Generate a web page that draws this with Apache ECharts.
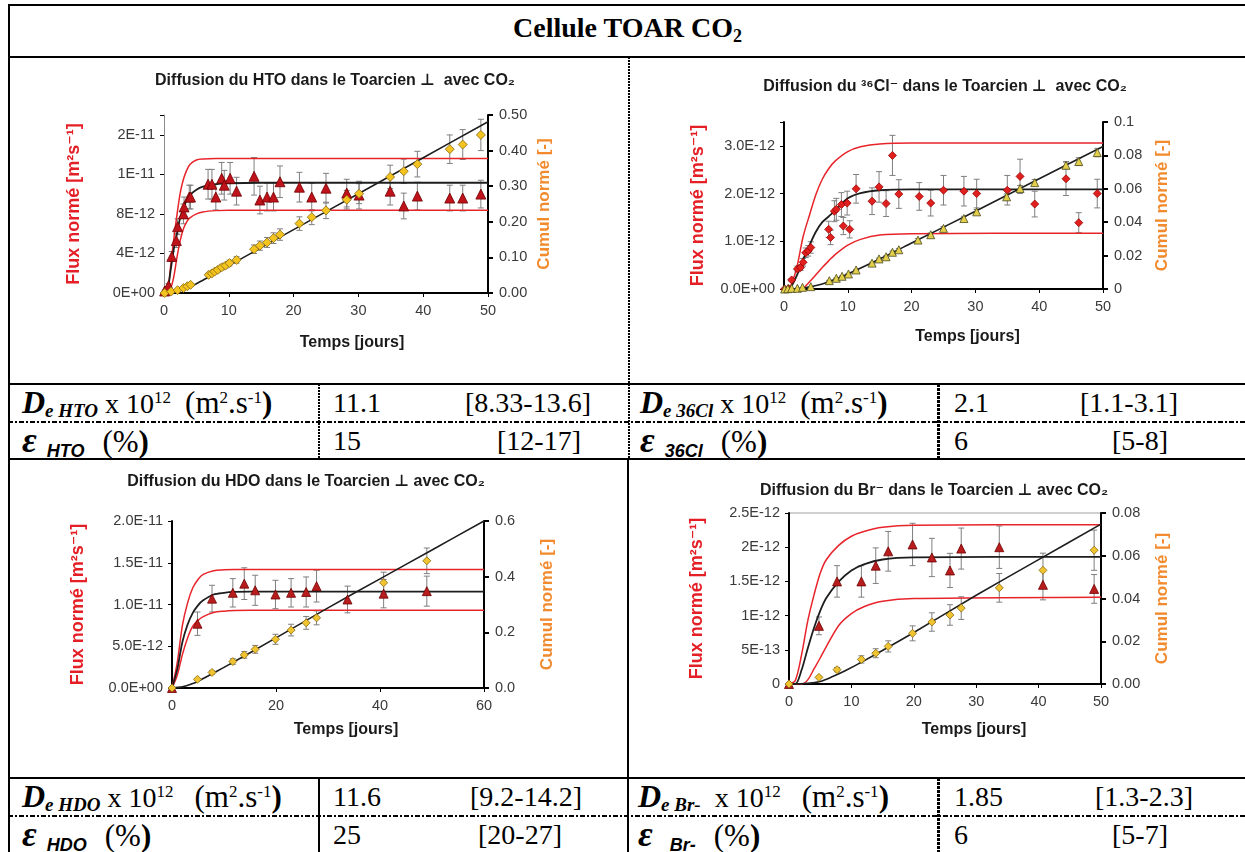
<!DOCTYPE html>
<html><head><meta charset="utf-8">
<script src="https://cdn.jsdelivr.net/npm/echarts@6/dist/echarts.min.js"></script>
<style>
html,body{margin:0;padding:0;background:#fff;width:1245px;height:852px;overflow:hidden}
#wrap{position:relative;width:1245px;height:852px}
.h{position:absolute;background:#000;height:2px}
.v{position:absolute;background:#000;width:2px}
.dd{position:absolute;height:2px;background:repeating-linear-gradient(to right,#000 0 5px,transparent 5px 7px,#000 7px 9px,transparent 9px 11px)}
.vd{position:absolute;width:2px;background:repeating-linear-gradient(to bottom,#000 0 2px,transparent 2px 3px)}
.vdt{position:absolute;width:3px;background:repeating-linear-gradient(to bottom,#000 0 3px,transparent 3px 4px)}
.c{position:absolute;font-family:'Liberation Serif','DejaVu Serif',serif;font-size:28px;line-height:37px;white-space:nowrap;color:#000}
.D{font-weight:bold;font-style:italic;font-size:32px}
.E{font-weight:bold;font-style:italic;font-size:36px;margin-right:10px}
.sb{font-weight:bold;font-style:italic;font-size:19px;position:relative;top:4px}
.sbs{font-family:'Liberation Sans',Arial,sans-serif;font-weight:bold;font-style:italic;font-size:18px;position:relative;top:5px;margin-right:18px}
.sp{font-size:17px;position:relative;top:-10px}
.P{font-size:31px}
.tt{position:absolute;left:10px;width:1235px;top:6px;height:50px;line-height:44px;text-align:center;font-family:'Liberation Serif','DejaVu Serif',serif;font-weight:bold;font-size:28px}
#chart{position:absolute;left:0;top:0;width:1245px;height:852px}
</style></head>
<body><div id="wrap">
<div class="h" style="left:8px;top:4px;width:1240px"></div>
<div class="v" style="left:8px;top:4px;height:850px"></div>
<div class="h" style="left:8px;top:56px;width:1240px"></div>
<div class="h" style="left:8px;top:383px;width:1240px"></div>
<div class="dd" style="left:8px;top:421px;width:1240px"></div>
<div class="h" style="left:8px;top:458px;width:1240px"></div>
<div class="h" style="left:8px;top:777px;width:1240px"></div>
<div class="dd" style="left:8px;top:815px;width:1240px"></div>
<div class="vd" style="left:628px;top:57px;height:402px"></div>
<div class="v" style="left:627px;top:459px;height:393px"></div>
<div class="vd" style="left:318px;top:384px;height:75px"></div>
<div class="v" style="left:318px;top:778px;height:74px"></div>
<div class="vdt" style="left:937px;top:384px;height:75px"></div>
<div class="vdt" style="left:937px;top:778px;height:74px"></div>

<div class="tt">Cellule TOAR CO<span style="font-size:18px;position:relative;top:5px">2</span></div>

<div class="c" style="left:22px;top:384px"><span class="D">D</span><span class="sb">e HTO</span> x 10<span class="sp">12</span>&nbsp; <span class="P">(m<span class="sp">2</span>.s<span class="sp">-1</span><b>)</b></span></div>
<div class="c" style="left:333px;top:384px">11.1</div>
<div class="c" style="left:465px;top:384px">[8.33-13.6]</div>
<div class="c" style="left:640px;top:384px"><span class="D">D</span><span class="sb">e 36Cl</span> x 10<span class="sp">12</span>&nbsp; <span class="P">(m<span class="sp">2</span>.s<span class="sp">-1</span><b>)</b></span></div>
<div class="c" style="left:954px;top:384px">2.1</div>
<div class="c" style="left:1080px;top:384px">[1.1-3.1]</div>

<div class="c" style="left:22px;top:422px"><span class="E">ε</span><span class="sbs">HTO</span><span class="P">(%<b>)</b></span></div>
<div class="c" style="left:333px;top:422px">15</div>
<div class="c" style="left:497px;top:422px">[12-17]</div>
<div class="c" style="left:640px;top:422px"><span class="E">ε</span><span class="sbs">36Cl</span><span class="P">(%<b>)</b></span></div>
<div class="c" style="left:954px;top:422px">6</div>
<div class="c" style="left:1112px;top:422px">[5-8]</div>

<div class="c" style="left:22px;top:778px"><span class="D">D</span><span class="sb">e HDO</span> x 10<span class="sp">12</span>&nbsp;&nbsp; <span class="P">(m<span class="sp">2</span>.s<span class="sp">-1</span><b>)</b></span></div>
<div class="c" style="left:333px;top:778px">11.6</div>
<div class="c" style="left:470px;top:778px">[9.2-14.2]</div>
<div class="c" style="left:638px;top:778px"><span class="D">D</span><span class="sb">e Br-</span>&nbsp; x 10<span class="sp">12</span>&nbsp;&nbsp; <span class="P">(m<span class="sp">2</span>.s<span class="sp">-1</span><b>)</b></span></div>
<div class="c" style="left:954px;top:778px">1.85</div>
<div class="c" style="left:1095px;top:778px">[1.3-2.3]</div>

<div class="c" style="left:22px;top:816px"><span class="E">ε</span><span class="sbs">HDO</span><span class="P">(%<b>)</b></span></div>
<div class="c" style="left:333px;top:816px">25</div>
<div class="c" style="left:478px;top:816px">[20-27]</div>
<div class="c" style="left:638px;top:816px"><span class="E">ε</span>&nbsp;<span class="sbs">Br-</span><span class="P">(%<b>)</b></span></div>
<div class="c" style="left:954px;top:816px">6</div>
<div class="c" style="left:1112px;top:816px">[5-7]</div>

<div id="chart"></div>
</div>
<script>
// ---------- HTO (flux in 1e-12 m2/s) ----------
const htoFluxT   = [0.1,0.7,1.2,1.9,2.1,3.0,3.1,3.9,4.1,6.8,7.4,8.0,8.9,9.3,10.2,11.2,13.9,14.8,15.9,16.9,17.9,20.9,22.8,25.0,28.2,30.1,34.9,37.0,39.1,44.1,46.1,48.9];
const htoFlux    = [0.2,0.75,3.7,5.3,6.7,8.0,8.7,9.7,9.7,11.0,11.0,9.7,11.6,10.9,11.6,10.3,11.8,9.4,9.7,9.7,11.25,10.7,9.7,10.6,10.1,9.9,10.3,8.8,9.8,9.6,9.6,10.0];
const htoFluxErr = [0.1,0.2,0.5,0.7,0.8,1.0,1.0,1.2,1.2,1.5,1.5,1.3,1.6,1.5,1.6,1.4,1.9,1.4,1.4,1.4,1.6,1.5,1.4,1.5,1.4,1.4,1.4,1.3,1.4,1.3,1.3,1.4];
const htoCumT    = [0.1,1.1,2.1,3.0,3.6,4.1,6.9,7.4,7.8,8.3,8.9,9.5,10.1,11.2,13.9,14.8,15.9,16.9,17.9,20.9,22.8,25.0,28.2,30.1,34.9,37.0,39.1,44.1,46.1,48.9];
const htoCum     = [0,0.004,0.008,0.014,0.019,0.023,0.051,0.055,0.06,0.065,0.072,0.077,0.084,0.093,0.123,0.133,0.142,0.154,0.164,0.195,0.213,0.232,0.262,0.279,0.326,0.342,0.362,0.404,0.417,0.444];
const htoCumErr  = [0,0.001,0.002,0.002,0.003,0.003,0.005,0.005,0.006,0.006,0.007,0.007,0.008,0.009,0.012,0.013,0.014,0.015,0.016,0.019,0.021,0.023,0.026,0.028,0.033,0.034,0.036,0.040,0.042,0.044];
const htoFitT    = [0,0.5,1,1.5,2,2.5,3,3.5,4,5,6,8,10,15,50];
const htoFitMid  = [0,0.2,2.2,4.4,6.0,7.6,8.6,9.4,9.9,10.45,10.75,11.0,11.1,11.15,11.15];
const htoFitHigh = [0,0.05,2.6,5.4,7.9,10.1,11.5,12.4,13.0,13.45,13.55,13.6,13.6,13.6,13.6];
const htoFitLow  = [0,0,0.4,1.6,3.6,5.3,6.5,7.2,7.6,8.0,8.2,8.33,8.37,8.37,8.37];
const htoCumFitT = [0,1,2,3,4,5,6,8,10,20,30,40,50];
const htoCumFit  = [0,0.001,0.004,0.01,0.017,0.026,0.036,0.056,0.077,0.178,0.279,0.38,0.481];
const htoFluxTicks = ['0E+00','4E-12','8E-12','1E-11','2E-11'];
const htoCumTicks  = ['0.00','0.10','0.20','0.30','0.40','0.50'];

// ---------- 36Cl ----------
const clFluxT    = [0.1,0.7,1.2,2.1,2.6,3.0,3.4,3.8,4.2,7.0,7.3,7.9,8.2,9.0,9.3,9.9,10.3,11.3,13.8,14.9,16.0,17.0,18.0,21.2,23.0,25.0,28.2,30.2,35.0,37.0,39.3,44.2,46.2,49.1];
const clFlux     = [0,0.01,0.19,0.42,0.45,0.56,0.76,0.8,0.87,1.25,1.08,1.63,1.67,1.77,1.32,1.8,1.25,2.1,1.84,2.14,1.79,2.8,1.99,1.94,1.8,2.07,2.05,2.0,2.07,2.36,1.78,2.31,1.39,2.0];
const clFluxErr  = [0,0.01,0.03,0.06,0.06,0.08,0.1,0.11,0.12,0.17,0.15,0.22,0.23,0.25,0.18,0.25,0.18,0.3,0.28,0.32,0.27,0.42,0.3,0.29,0.27,0.31,0.31,0.3,0.31,0.36,0.27,0.35,0.21,0.3];
const clCumT     = [0.1,0.6,1.2,2.1,2.9,4.2,7.1,8.2,9.1,10.1,11.3,13.8,14.9,16.0,17.0,18.0,21.0,23.0,25.0,28.2,30.2,34.9,37.0,39.3,44.2,46.2,49.1];
const clCum      = [0,0.0002,0.0004,0.0004,0.001,0.0014,0.005,0.0064,0.0076,0.009,0.0114,0.0155,0.018,0.0193,0.022,0.0235,0.0293,0.0325,0.0363,0.0422,0.0462,0.0552,0.0602,0.0637,0.0741,0.0763,0.0817];
const clCumErr   = [0,0,0,0,0,0.0001,0.0002,0.0002,0.0002,0.0003,0.0003,0.0005,0.0005,0.0006,0.0007,0.0007,0.0009,0.001,0.0011,0.0013,0.0014,0.0017,0.0018,0.0019,0.0022,0.0023,0.0025];
const clFitT     = [0,1,2,3,4,5,6,7,8,10,12,15,20,50];
const clFitMid   = [0,0.03,0.28,0.62,0.92,1.2,1.4,1.52,1.64,1.9,2.01,2.07,2.09,2.09];
const clFitHigh  = [0,0.06,0.45,1.1,1.55,1.98,2.3,2.52,2.68,2.88,2.98,3.04,3.06,3.06];
const clFitLow   = [0,0,0,0.02,0.15,0.3,0.45,0.59,0.72,0.92,1.04,1.13,1.16,1.17];
const clCumFitT  = [0,2,4,6,8,10,15,20,30,40,50];
const clCumFit   = [0,0.0002,0.0012,0.003,0.0058,0.009,0.018,0.0275,0.0466,0.066,0.0853];
const clFluxTicks = ['0.0E+00','1.0E-12','2.0E-12','3.0E-12'];
const clCumTicks  = ['0','0.02','0.04','0.06','0.08','0.1'];

// ---------- HDO ----------
const hdoFluxT   = [0,4.9,7.7,11.7,13.9,16.0,19.9,22.9,25.8,27.8,33.75,40.7,49.0];
const hdoFlux    = [0,7.7,10.7,11.4,12.5,11.7,11.2,11.4,11.5,12.2,10.6,11.3,11.6];
const hdoFluxErr = [0,1.4,1.6,1.7,1.9,1.8,1.7,1.7,1.8,1.9,1.6,1.7,1.8];
const hdoCumT    = [0,4.9,7.7,11.7,13.9,16.0,19.9,22.9,25.8,27.8,40.7,49.0];
const hdoCum     = [0,0.031,0.056,0.095,0.119,0.139,0.175,0.208,0.234,0.252,0.378,0.457];
const hdoCumErr  = [0,0.003,0.006,0.01,0.012,0.014,0.018,0.021,0.023,0.025,0.038,0.046];
const hdoFitT    = [0,1,2,3,4,5,6,8,10,12,15,60];
const hdoFitMid  = [0,2.2,5.5,7.6,9.0,9.9,10.5,11.2,11.4,11.5,11.55,11.55];
const hdoFitHigh = [0,3.0,7.5,10.2,12.0,13.0,13.6,14.05,14.15,14.2,14.2,14.2];
const hdoFitLow  = [0,1.5,4.0,6.0,7.4,8.1,8.55,9.05,9.2,9.27,9.3,9.3];
const hdoCumFitT = [0,2,4,6,8,10,20,30,40,50,60];
const hdoCumFit  = [0,0.004,0.016,0.034,0.054,0.074,0.18,0.288,0.392,0.496,0.6];
const hdoFluxTicks = ['0.0E+00','5.0E-12','1.0E-11','1.5E-11','2.0E-11'];
const hdoCumTicks  = ['0.0','0.2','0.4','0.6'];

// ---------- Br ----------
const brFluxT    = [0,4.8,7.7,11.6,13.9,15.9,19.8,22.9,25.8,27.6,33.7,40.7,48.9];
const brFlux     = [0,0.85,1.5,1.5,1.73,1.94,2.04,1.85,1.66,1.98,2.0,1.45,1.39];
const brFluxErr  = [0,0.13,0.23,0.23,0.26,0.29,0.31,0.28,0.25,0.3,0.31,0.22,0.21];
const brCumT     = [0,4.8,7.7,11.6,13.9,15.9,19.8,22.9,25.8,27.6,33.7,40.7,48.9];
const brCum      = [0,0.0031,0.0067,0.0115,0.0144,0.0176,0.0237,0.029,0.0323,0.0355,0.045,0.0532,0.0626];
const brCumErr   = [0,0.0005,0.001,0.0017,0.0021,0.0026,0.0035,0.0043,0.0048,0.0053,0.0067,0.008,0.0094];
const brFitT     = [0,1,2,3,4,5,6,8,10,12,15,20,50];
const brFitMid   = [0,0,0.2,0.52,0.82,1.07,1.26,1.5,1.66,1.75,1.82,1.85,1.86];
const brFitHigh  = [0,0.05,0.42,0.92,1.3,1.62,1.82,2.03,2.16,2.23,2.29,2.32,2.33];
const brFitLow   = [0,0,0,0.06,0.22,0.38,0.55,0.86,1.03,1.13,1.21,1.25,1.27];
const brCumFitT  = [0,3,5,7,9,12,20,30,40,50];
const brCumFit   = [0,0.0003,0.0012,0.0035,0.0062,0.0108,0.0241,0.0415,0.0582,0.0748];
const brFluxTicks = ['0','5E-13','1E-12','1.5E-12','2E-12','2.5E-12'];
const brCumTicks  = ['0.00','0.02','0.04','0.06','0.08'];

const timeTicks50 = ['0','10','20','30','40','50'];
const timeTicks60 = ['0','20','40','60'];

const ff = "'Liberation Sans', Arial, 'DejaVu Sans', sans-serif";
const RED_LINE = '#e8242b', BLACK_LINE = '#1e1e1e';

function lookup(labels, interval) {
  return v => { const k = Math.round(v / interval); return (Math.abs(k * interval - v) < interval * 1e-6 && labels[k] !== undefined) ? labels[k] : ''; };
}
const zip = (a, b) => a.map((x, k) => [x, b[k]]);

const charts = [
  { grid:{left:164, top:115, width:324, height:178}, title:'Diffusion du HTO dans le Toarcien ⊥  avec CO₂', tx:330, ty:68,
    xMax:50, xInt:10, xTicks:timeTicks50, xGap:42, xShift:52,
    lMax:18, lInt:4, lTicks:htoFluxTicks, lColor:'#8a8a8a', lWidth:1, lGap:81,
    rMax:0.5, rInt:0.1, rTicks:htoCumTicks, rGap:48,
    flux:{t:htoFluxT, v:htoFlux, e:htoFluxErr, symbol:'triangle', color:'#c0121a', border:'#6e0000', size:10},
    cum:{t:htoCumT, v:htoCum, e:htoCumErr, symbol:'diamond', color:'#f3c41f', border:'#8a6a10', size:9},
    fit:{t:htoFitT, mid:htoFitMid, high:htoFitHigh, low:htoFitLow}, cumFit:{t:htoCumFitT, v:htoCumFit}, frame:false },
  { grid:{left:784, top:122, width:319, height:167}, title:'Diffusion du ³⁶Cl⁻ dans le Toarcien ⊥  avec CO₂', tx:940, ty:74,
    xMax:50, xInt:10, xTicks:timeTicks50, xGap:40, xShift:48,
    lMax:3.5, lInt:1, lTicks:clFluxTicks, lColor:'#000', lWidth:2, lGap:77,
    rMax:0.1, rInt:0.02, rTicks:clCumTicks, rGap:51,
    flux:{t:clFluxT, v:clFlux, e:clFluxErr, symbol:'diamond', color:'#e0201f', border:'#9a0000', size:8},
    cum:{t:clCumT, v:clCum, e:clCumErr, symbol:'triangle', color:'#e3cf4a', border:'#4a4a20', size:8},
    fit:{t:clFitT, mid:clFitMid, high:clFitHigh, low:clFitLow}, cumFit:{t:clCumFitT, v:clCumFit}, frame:false },
  { grid:{left:172, top:521, width:312, height:167}, title:'Diffusion du HDO dans le Toarcien ⊥ avec CO₂', tx:301, ty:469,
    xMax:60, xInt:20, xTicks:timeTicks60, xGap:34, xShift:36,
    lMax:20, lInt:5, lTicks:hdoFluxTicks, lColor:'#000', lWidth:2, lGap:85,
    rMax:0.6, rInt:0.2, rTicks:hdoCumTicks, rGap:55,
    flux:{t:hdoFluxT, v:hdoFlux, e:hdoFluxErr, symbol:'triangle', color:'#b81c1c', border:'#6e0000', size:9},
    cum:{t:hdoCumT, v:hdoCum, e:hdoCumErr, symbol:'diamond', color:'#f0c430', border:'#8a6a10', size:8},
    fit:{t:hdoFitT, mid:hdoFitMid, high:hdoFitHigh, low:hdoFitLow}, cumFit:{t:hdoCumFitT, v:hdoCumFit}, frame:false },
  { grid:{left:789, top:513, width:312, height:171}, title:'Diffusion du Br⁻ dans le Toarcien ⊥ avec CO₂', tx:929, ty:478,
    xMax:50, xInt:10, xTicks:timeTicks50, xGap:38, xShift:58,
    lMax:2.5, lInt:0.5, lTicks:brFluxTicks, lColor:'#000', lWidth:2, lGap:83,
    rMax:0.08, rInt:0.02, rTicks:brCumTicks, rGap:53,
    flux:{t:brFluxT, v:brFlux, e:brFluxErr, symbol:'triangle', color:'#b81c1c', border:'#6e0000', size:9},
    cum:{t:brCumT, v:brCum, e:brCumErr, symbol:'diamond', color:'#f0c430', border:'#8a6a10', size:8},
    fit:{t:brFitT, mid:brFitMid, high:brFitHigh, low:brFitLow}, cumFit:{t:brCumFitT, v:brCumFit}, frame:true }
];

function errSeries(i, yi, s) {
  return { type:'custom', xAxisIndex:i, yAxisIndex:yi, silent:true, z:1,
    data: s.t.map((t, k) => [t, s.v[k], s.e[k]]),
    renderItem: (params, api) => {
      const x = api.value(0), y = api.value(1), e = api.value(2);
      if (!e) return { type:'group', children:[] };
      const p1 = api.coord([x, y + e]), p2 = api.coord([x, y - e]);
      const w = 3, st = { stroke:'#7f7f7f', lineWidth:1 };
      return { type:'group', children:[
        { type:'line', shape:{x1:p1[0], y1:p1[1], x2:p2[0], y2:p2[1]}, style:st },
        { type:'line', shape:{x1:p1[0]-w, y1:p1[1], x2:p1[0]+w, y2:p1[1]}, style:st },
        { type:'line', shape:{x1:p2[0]-w, y1:p2[1], x2:p2[0]+w, y2:p2[1]}, style:st }
      ]};
    } };
}
function lineSeries(i, yi, t, v, color, width) {
  return { type:'line', xAxisIndex:i, yAxisIndex:yi, data:zip(t, v), showSymbol:false, smooth:0.3, silent:true,
    lineStyle:{ color, width }, z:3 };
}
function scatterSeries(i, yi, s) {
  return { type:'scatter', xAxisIndex:i, yAxisIndex:yi, data:zip(s.t, s.v), symbol:s.symbol, symbolSize:s.size, silent:true,
    itemStyle:{ color:s.color, borderColor:s.border, borderWidth:0.8, opacity:1 }, z:5 };
}

const option = { animation:false, title:[], grid:[], xAxis:[], yAxis:[], series:[] };
charts.forEach((c, i) => {
  option.title.push({ text:c.title, left:c.tx, top:c.ty, textAlign:'center',
    textStyle:{ fontFamily:ff, fontWeight:'bold', fontSize:16, color:'#1a1a1a' } });
  option.grid.push(Object.assign({ show:c.frame, borderColor:'#a0a0a0', borderWidth:1, backgroundColor:'transparent', containLabel:false }, c.grid));
  option.xAxis.push({ gridIndex:i, type:'value', min:0, max:c.xMax, interval:c.xInt,
    name:'Temps [jours]', nameLocation:'middle', nameGap:c.xGap,
    nameTextStyle:{ fontFamily:ff, fontWeight:'bold', fontSize:16, color:'#1a1a1a', padding:[0, 0, 0, c.xShift] },
    axisLine:{ onZero:false, lineStyle:{ color:'#000', width:2 } },
    axisTick:{ show:true, length:4, lineStyle:{ color:'#000' } },
    axisLabel:{ fontFamily:ff, fontSize:14.5, color:'#3a3a3a', margin:10, formatter:lookup(c.xTicks, c.xInt) },
    splitLine:{ show:false } });
  option.yAxis.push({ gridIndex:i, type:'value', position:'left', min:0, max:c.lMax, interval:c.lInt,
    name:'Flux normé [m²s⁻¹]', nameLocation:'middle', nameRotate:90, nameGap:c.lGap,
    nameTextStyle:{ fontFamily:ff, fontWeight:'bold', fontSize:18, color:'#e41f26' },
    axisLine:{ show:true, onZero:false, lineStyle:{ color:c.lColor, width:c.lWidth } },
    axisTick:{ show:true, length:4, lineStyle:{ color:'#000' } },
    axisLabel:{ fontFamily:ff, fontSize:14.5, color:'#3a3a3a', margin:9, formatter:lookup(c.lTicks, c.lInt) },
    splitLine:{ show:false } });
  option.yAxis.push({ gridIndex:i, type:'value', position:'right', min:0, max:c.rMax, interval:c.rInt,
    name:'Cumul normé [-]', nameLocation:'middle', nameRotate:90, nameGap:c.rGap,
    nameTextStyle:{ fontFamily:ff, fontWeight:'bold', fontSize:17, color:'#f28a2e' },
    axisLine:{ show:true, onZero:false, lineStyle:{ color:'#000', width:2 } },
    axisTick:{ show:true, length:5, lineStyle:{ color:'#000', width:2 } },
    axisLabel:{ fontFamily:ff, fontSize:14.5, color:'#3a3a3a', margin:11, formatter:lookup(c.rTicks, c.rInt) },
    splitLine:{ show:false } });
  const yl = 2 * i, yr = 2 * i + 1;
  option.series.push(errSeries(i, yl, c.flux));
  option.series.push(errSeries(i, yr, c.cum));
  option.series.push(lineSeries(i, yl, c.fit.t, c.fit.high, RED_LINE, 1.5));
  option.series.push(lineSeries(i, yl, c.fit.t, c.fit.low, RED_LINE, 1.5));
  option.series.push(lineSeries(i, yl, c.fit.t, c.fit.mid, BLACK_LINE, 1.8));
  option.series.push(lineSeries(i, yr, c.cumFit.t, c.cumFit.v, BLACK_LINE, 1.6));
  option.series.push(scatterSeries(i, yl, c.flux));
  option.series.push(scatterSeries(i, yr, c.cum));
});

const chart = echarts.init(document.getElementById('chart'), null, { renderer:'canvas' });
chart.setOption(option);
</script>
</body></html>
